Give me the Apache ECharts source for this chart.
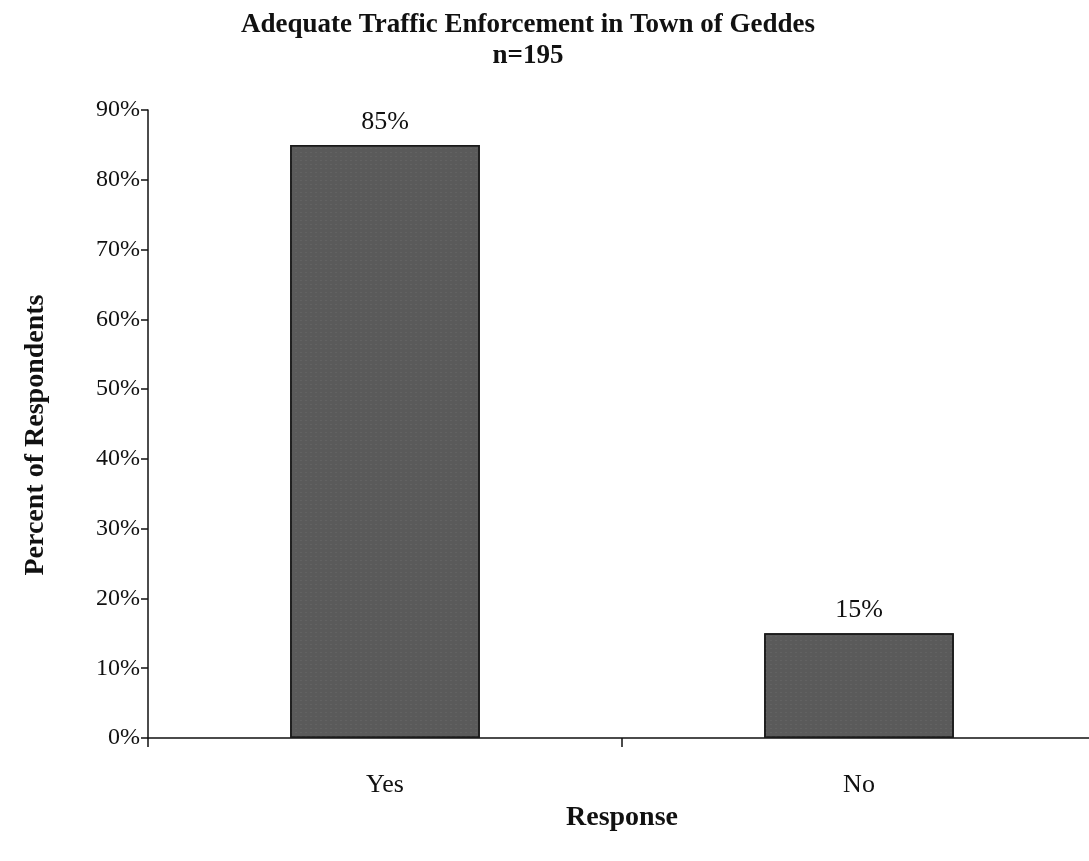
<!DOCTYPE html>
<html>
<head>
<meta charset="utf-8">
<script src="https://cdn.jsdelivr.net/npm/echarts@6/dist/echarts.min.js"></script>
<style>
html,body{margin:0;padding:0;background:#fff;}
#chart{width:1089px;height:861px;}
</style>
</head>
<body>
<div id="chart"></div>
<script>
var categories = ['Yes', 'No'];
var percents = [85, 15];
var yTicks = [0, 10, 20, 30, 40, 50, 60, 70, 80, 90];

var chart = echarts.init(document.getElementById('chart'));
var serif = '"Liberation Serif", "DejaVu Serif", serif';

var option = {
    backgroundColor: '#fff',
    animation: false,
    title: {
        text: 'Adequate Traffic Enforcement in Town of Geddes\nn=195',
        left: 523,
        top: 5,
        textAlign: 'center',
        textStyle: {
            fontFamily: serif,
            fontWeight: 'bold',
            fontSize: 27,
            lineHeight: 31,
            color: '#111'
        }
    },
    grid: {
        left: 148,
        top: 110,
        width: 948,
        height: 628,
        outerBoundsMode: 'none',
        containLabel: false
    },
    xAxis: {
        type: 'category',
        data: categories,
        name: 'Response',
        nameLocation: 'middle',
        nameGap: 66,
        nameTextStyle: {
            fontFamily: serif, fontWeight: 'bold', fontSize: 28, color: '#111'
        },
        axisLine: { lineStyle: { color: '#111', width: 1.5 } },
        axisTick: { show: true, length: 9, lineStyle: { color: '#111', width: 1.5 } },
        axisLabel: {
            fontFamily: serif, fontSize: 26, color: '#111', margin: 34
        }
    },
    yAxis: {
        type: 'value',
        min: yTicks[0],
        max: yTicks[yTicks.length - 1],
        interval: 10,
        name: 'Percent of Respondents',
        nameLocation: 'middle',
        nameGap: 98,
        nameTextStyle: {
            fontFamily: serif, fontWeight: 'bold', fontSize: 28, color: '#111',
            padding: [0, 22, 0, 0]
        },
        axisLine: { show: true, lineStyle: { color: '#111', width: 1.5 } },
        axisTick: { show: true, length: 7, lineStyle: { color: '#111', width: 1.5 } },
        splitLine: { show: false },
        axisLabel: {
            fontFamily: serif, fontSize: 24, color: '#111', margin: 8,
            formatter: '{value}%'
        }
    },
    series: [{
        type: 'bar',
        data: percents,
        barCategoryGap: '60%',
        itemStyle: {
            color: '#5a5a5a',
            borderColor: '#1a1a1a',
            borderWidth: 1.5,
            decal: {
                symbol: 'rect',
                symbolSize: 0.5,
                color: 'rgba(170,170,170,0.45)',
                dashArrayX: [2, 3],
                dashArrayY: [1, 3],
                rotation: 0
            }
        },
        label: {
            show: true,
            position: 'top',
            distance: 10,
            formatter: '{c}%',
            fontFamily: serif,
            fontSize: 26,
            color: '#111'
        }
    }]
};

chart.setOption(option);
</script>
</body>
</html>
